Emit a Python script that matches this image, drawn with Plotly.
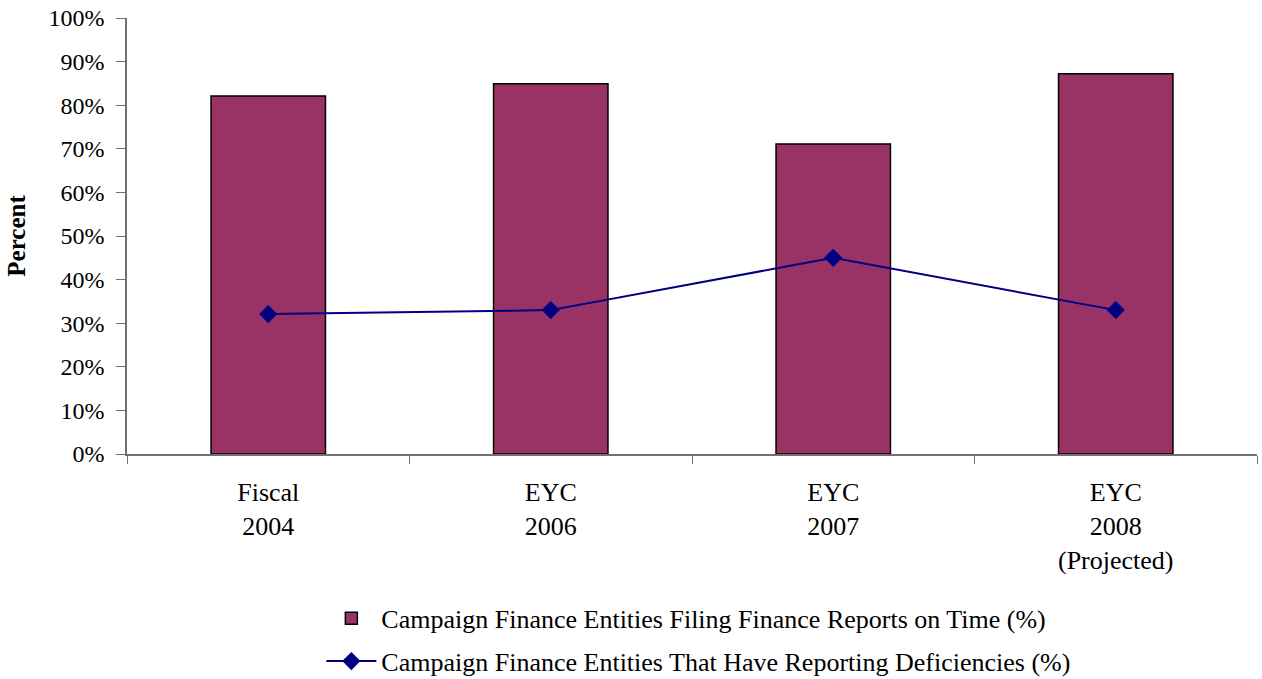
import plotly.graph_objects as go

categories = ["Fiscal<br>2004", "EYC<br>2006", "EYC<br>2007", "EYC<br>2008<br>(Projected)"]
on_time = [82.1, 84.9, 71.1, 87.2]
deficiencies = [32.1, 33.0, 45.0, 33.0]
y_ticks = list(range(0, 101, 10))
y_tick_text = [f"{v}%" for v in y_ticks]

name_bar = "Campaign Finance Entities Filing Finance Reports on Time (%)"
name_line = "Campaign Finance Entities That Have Reporting Deficiencies (%)"

FONT = "Liberation Serif, Times New Roman, serif"
AXIS_COLOR = "#707070"

fig = go.Figure()
fig.add_trace(go.Bar(
    x=categories, y=on_time, name=name_bar, legendgroup="a",
    marker=dict(color="#993366", line=dict(color="black", width=1.5)),
    width=0.405,
))
fig.add_trace(go.Scatter(
    x=categories, y=deficiencies, name=name_line, mode="lines+markers", legendgroup="b",
    line=dict(color="#000080", width=2),
    marker=dict(symbol="diamond", size=14, color="#000080"),
))

fig.update_layout(
    width=1262, height=679,
    margin=dict(l=127, r=5, t=18, b=225, autoexpand=False),
    paper_bgcolor="white", plot_bgcolor="white",
    font=dict(family=FONT, size=24, color="black"),
    showlegend=True,
    legend=dict(
        orientation="v", x=0.172, xanchor="left", y=-0.323, yanchor="top",
        font=dict(family=FONT, size=26, color="black"),
        traceorder="grouped", tracegroupgap=6, itemwidth=50,
    ),
    xaxis=dict(
        type="category", showline=True, linecolor=AXIS_COLOR, linewidth=1.5,
        ticks="outside", tickson="boundaries", ticklen=8, tickcolor=AXIS_COLOR,
        showgrid=False, zeroline=False, range=[-0.5, 3.5], automargin=False,
        tickfont=dict(family=FONT, size=26), ticklabelstandoff=14,
    ),
    xaxis2=dict(
        overlaying="x", range=[-0.5, 3.5], tickvals=[0.5, 1.5, 2.5],
        ticks="inside", ticklen=8, tickcolor=AXIS_COLOR, showticklabels=False,
        showline=False, showgrid=False, zeroline=False, anchor="y", automargin=False,
    ),
    yaxis=dict(
        range=[0, 100], tickvals=y_ticks, ticktext=y_tick_text,
        showline=True, linecolor=AXIS_COLOR, linewidth=1.5,
        ticks="outside", ticklen=9, tickcolor=AXIS_COLOR,
        showgrid=False, zeroline=False, automargin=False,
        tickfont=dict(family=FONT, size=24), ticklabeloverflow="allow",
        title=dict(text="<b>Percent</b>", font=dict(family=FONT, size=25), standoff=16),
        ticklabelstandoff=7,
    ),
    yaxis2=dict(
        overlaying="y", range=[0, 100], tickvals=y_ticks,
        ticks="inside", ticklen=8, tickcolor=AXIS_COLOR, showticklabels=False,
        showline=False, showgrid=False, zeroline=False, anchor="x", automargin=False,
    ),
)

fig.write_html(
    "out.html",
    config={"displayModeBar": False},
    post_script="document.body.style.margin='0';document.body.style.overflow='hidden';",
)
